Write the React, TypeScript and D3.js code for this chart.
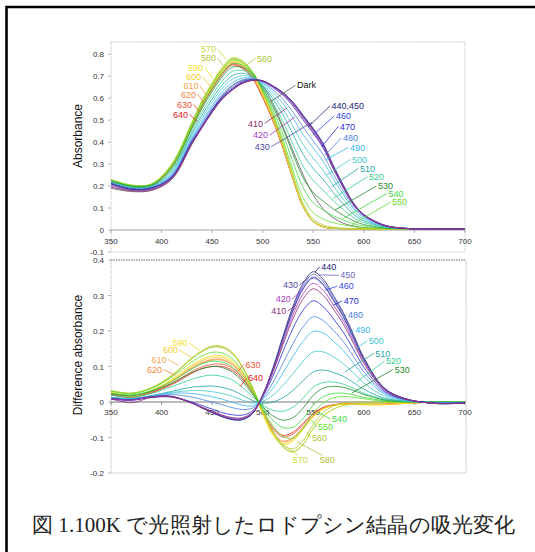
import React from "react";
import * as d3 from "d3";

const WL = [350, 370, 390, 410, 430, 440, 450, 460, 470, 480, 490, 500, 510, 520, 530, 540, 550, 560, 570, 580, 590, 600, 620, 640, 670, 700];

// Illumination wavelengths (series names)
const ILLUM = ["410", "420", "430", "440", "450", "460", "470", "480", "490", "500", "510", "520", "530", "540", "550", "560", "570", "580", "590", "600", "610", "620", "630", "640"];

// Top panel: absorbance
const topDark = [0.190, 0.175, 0.180, 0.230, 0.390, 0.470, 0.545, 0.610, 0.655, 0.680, 0.685, 0.655, 0.575, 0.470, 0.360, 0.250, 0.160, 0.095, 0.055, 0.030, 0.018, 0.010, 0.006, 0.005, 0.004, 0.004];
const topValues = [
  [0.195, 0.178, 0.182, 0.232, 0.392, 0.465, 0.535, 0.595, 0.636, 0.666, 0.680, 0.677, 0.652, 0.618, 0.570, 0.508, 0.446, 0.376, 0.279, 0.191, 0.114, 0.066, 0.020, 0.007, 0.004, 0.004],
  [0.200, 0.180, 0.185, 0.235, 0.395, 0.467, 0.537, 0.597, 0.638, 0.668, 0.681, 0.678, 0.654, 0.621, 0.575, 0.514, 0.452, 0.382, 0.284, 0.195, 0.117, 0.068, 0.021, 0.007, 0.004, 0.004],
  [0.205, 0.182, 0.188, 0.238, 0.398, 0.469, 0.539, 0.599, 0.639, 0.669, 0.682, 0.678, 0.655, 0.623, 0.578, 0.517, 0.456, 0.386, 0.287, 0.198, 0.119, 0.069, 0.022, 0.008, 0.004, 0.004],
  [0.210, 0.185, 0.190, 0.240, 0.400, 0.470, 0.540, 0.600, 0.640, 0.670, 0.682, 0.678, 0.655, 0.625, 0.580, 0.520, 0.460, 0.390, 0.290, 0.200, 0.120, 0.070, 0.022, 0.008, 0.004, 0.004],
  [0.212, 0.186, 0.190, 0.239, 0.398, 0.468, 0.538, 0.598, 0.639, 0.669, 0.682, 0.678, 0.656, 0.626, 0.582, 0.522, 0.462, 0.392, 0.292, 0.202, 0.122, 0.071, 0.023, 0.008, 0.004, 0.004],
  [0.212, 0.187, 0.191, 0.240, 0.400, 0.470, 0.541, 0.601, 0.641, 0.671, 0.683, 0.678, 0.655, 0.624, 0.579, 0.518, 0.457, 0.386, 0.286, 0.197, 0.118, 0.069, 0.022, 0.008, 0.004, 0.004],
  [0.211, 0.186, 0.191, 0.243, 0.405, 0.476, 0.547, 0.607, 0.647, 0.675, 0.684, 0.676, 0.648, 0.613, 0.563, 0.500, 0.439, 0.371, 0.276, 0.190, 0.114, 0.067, 0.021, 0.008, 0.004, 0.004],
  [0.213, 0.188, 0.193, 0.248, 0.412, 0.486, 0.557, 0.618, 0.659, 0.683, 0.687, 0.672, 0.638, 0.595, 0.536, 0.467, 0.405, 0.341, 0.253, 0.175, 0.105, 0.062, 0.020, 0.008, 0.004, 0.004],
  [0.214, 0.189, 0.194, 0.253, 0.419, 0.495, 0.567, 0.629, 0.670, 0.691, 0.690, 0.668, 0.627, 0.576, 0.509, 0.434, 0.372, 0.311, 0.231, 0.159, 0.096, 0.056, 0.018, 0.007, 0.004, 0.004],
  [0.216, 0.191, 0.196, 0.259, 0.429, 0.508, 0.582, 0.645, 0.686, 0.702, 0.694, 0.663, 0.612, 0.550, 0.471, 0.389, 0.326, 0.270, 0.200, 0.138, 0.083, 0.049, 0.017, 0.007, 0.004, 0.004],
  [0.219, 0.194, 0.199, 0.266, 0.439, 0.522, 0.596, 0.660, 0.702, 0.713, 0.698, 0.657, 0.597, 0.524, 0.434, 0.344, 0.279, 0.229, 0.169, 0.117, 0.071, 0.042, 0.015, 0.007, 0.004, 0.004],
  [0.221, 0.196, 0.201, 0.274, 0.450, 0.537, 0.613, 0.678, 0.721, 0.726, 0.703, 0.651, 0.579, 0.493, 0.390, 0.290, 0.225, 0.180, 0.132, 0.091, 0.056, 0.034, 0.013, 0.006, 0.004, 0.004],
  [0.224, 0.199, 0.204, 0.281, 0.462, 0.553, 0.630, 0.697, 0.740, 0.739, 0.708, 0.645, 0.562, 0.463, 0.345, 0.237, 0.170, 0.131, 0.095, 0.066, 0.041, 0.025, 0.010, 0.006, 0.004, 0.004],
  [0.226, 0.201, 0.206, 0.288, 0.472, 0.566, 0.644, 0.712, 0.756, 0.750, 0.712, 0.640, 0.547, 0.437, 0.308, 0.192, 0.124, 0.090, 0.064, 0.045, 0.028, 0.018, 0.008, 0.006, 0.004, 0.004],
  [0.228, 0.203, 0.208, 0.295, 0.482, 0.579, 0.658, 0.727, 0.772, 0.761, 0.717, 0.634, 0.532, 0.411, 0.271, 0.147, 0.078, 0.049, 0.033, 0.023, 0.015, 0.011, 0.007, 0.005, 0.004, 0.004],
  [0.229, 0.204, 0.209, 0.298, 0.487, 0.586, 0.666, 0.735, 0.780, 0.767, 0.719, 0.632, 0.525, 0.398, 0.252, 0.122, 0.050, 0.023, 0.012, 0.008, 0.006, 0.005, 0.005, 0.005, 0.004, 0.004],
  [0.230, 0.205, 0.210, 0.300, 0.490, 0.590, 0.670, 0.740, 0.785, 0.770, 0.720, 0.630, 0.520, 0.390, 0.240, 0.110, 0.040, 0.015, 0.008, 0.006, 0.005, 0.005, 0.005, 0.005, 0.004, 0.004],
  [0.228, 0.203, 0.208, 0.297, 0.485, 0.584, 0.663, 0.733, 0.777, 0.762, 0.713, 0.624, 0.515, 0.386, 0.238, 0.109, 0.040, 0.015, 0.008, 0.006, 0.005, 0.005, 0.005, 0.005, 0.004, 0.004],
  [0.225, 0.201, 0.206, 0.294, 0.480, 0.578, 0.657, 0.725, 0.769, 0.755, 0.706, 0.617, 0.510, 0.382, 0.235, 0.108, 0.039, 0.015, 0.008, 0.006, 0.005, 0.005, 0.005, 0.005, 0.004, 0.004],
  [0.224, 0.200, 0.205, 0.293, 0.478, 0.575, 0.653, 0.722, 0.765, 0.751, 0.702, 0.614, 0.507, 0.380, 0.234, 0.107, 0.039, 0.015, 0.008, 0.006, 0.005, 0.005, 0.005, 0.005, 0.004, 0.004],
  [0.223, 0.199, 0.204, 0.291, 0.475, 0.572, 0.650, 0.718, 0.761, 0.747, 0.698, 0.611, 0.504, 0.378, 0.233, 0.107, 0.039, 0.015, 0.008, 0.006, 0.005, 0.005, 0.005, 0.005, 0.004, 0.004],
  [0.222, 0.198, 0.203, 0.290, 0.473, 0.569, 0.647, 0.714, 0.758, 0.743, 0.695, 0.608, 0.502, 0.376, 0.232, 0.106, 0.039, 0.014, 0.008, 0.006, 0.005, 0.005, 0.005, 0.005, 0.004, 0.004],
  [0.221, 0.197, 0.202, 0.288, 0.470, 0.566, 0.643, 0.710, 0.754, 0.739, 0.691, 0.605, 0.499, 0.374, 0.230, 0.106, 0.038, 0.014, 0.008, 0.006, 0.005, 0.005, 0.005, 0.005, 0.004, 0.004],
  [0.220, 0.196, 0.201, 0.287, 0.468, 0.563, 0.640, 0.707, 0.750, 0.735, 0.688, 0.602, 0.497, 0.372, 0.229, 0.105, 0.038, 0.014, 0.008, 0.006, 0.005, 0.005, 0.005, 0.005, 0.004, 0.004],
];

// Bottom panel: difference absorbance
const diffValues = [
  [0.009, -0.002, 0.013, 0.014, -0.003, -0.015, -0.026, -0.037, -0.044, -0.044, -0.029, 0.017, 0.083, 0.161, 0.235, 0.291, 0.319, 0.300, 0.261, 0.218, 0.164, 0.109, 0.035, 0.009, -0.003, -0.003],
  [0.009, 0.005, 0.014, 0.015, -0.003, -0.015, -0.027, -0.038, -0.046, -0.046, -0.030, 0.018, 0.086, 0.168, 0.246, 0.305, 0.334, 0.314, 0.273, 0.228, 0.171, 0.114, 0.036, 0.009, -0.004, -0.003],
  [0.010, 0.006, 0.014, 0.015, -0.003, -0.016, -0.029, -0.040, -0.048, -0.048, -0.031, 0.019, 0.090, 0.176, 0.257, 0.318, 0.349, 0.328, 0.285, 0.238, 0.179, 0.119, 0.038, 0.010, -0.004, -0.003],
  [0.010, 0.006, 0.015, 0.016, -0.003, -0.017, -0.030, -0.042, -0.050, -0.050, -0.033, 0.020, 0.095, 0.185, 0.270, 0.335, 0.367, 0.345, 0.300, 0.250, 0.188, 0.125, 0.040, 0.010, -0.004, -0.003],
  [0.010, 0.006, 0.015, 0.016, -0.003, -0.017, -0.029, -0.041, -0.049, -0.049, -0.032, 0.020, 0.093, 0.181, 0.265, 0.328, 0.360, 0.338, 0.294, 0.245, 0.184, 0.123, 0.039, 0.010, -0.004, -0.003],
  [0.010, 0.006, 0.014, 0.015, -0.003, -0.016, -0.029, -0.040, -0.048, -0.048, -0.032, 0.019, 0.091, 0.178, 0.259, 0.322, 0.352, 0.331, 0.288, 0.240, 0.180, 0.120, 0.038, 0.010, -0.004, -0.003],
  [0.008, 0.005, 0.013, 0.014, 0.000, -0.010, -0.020, -0.030, -0.036, -0.037, -0.025, 0.015, 0.072, 0.142, 0.208, 0.259, 0.285, 0.268, 0.234, 0.195, 0.147, 0.098, 0.031, 0.008, -0.003, -0.002],
  [0.011, 0.007, 0.015, 0.021, 0.014, 0.007, 0.000, -0.008, -0.016, -0.021, -0.017, 0.010, 0.054, 0.109, 0.165, 0.212, 0.240, 0.229, 0.201, 0.169, 0.127, 0.085, 0.027, 0.007, -0.003, -0.002],
  [0.012, 0.009, 0.017, 0.025, 0.024, 0.020, 0.015, 0.008, -0.001, -0.009, -0.011, 0.007, 0.038, 0.082, 0.129, 0.171, 0.199, 0.194, 0.171, 0.144, 0.109, 0.072, 0.023, 0.006, -0.002, -0.002],
  [0.013, 0.009, 0.017, 0.027, 0.032, 0.032, 0.029, 0.024, 0.016, 0.005, -0.003, 0.002, 0.019, 0.047, 0.080, 0.115, 0.141, 0.141, 0.127, 0.107, 0.081, 0.054, 0.017, 0.004, -0.002, -0.001],
  [0.014, 0.010, 0.018, 0.030, 0.042, 0.044, 0.045, 0.041, 0.033, 0.019, 0.004, -0.003, 0.000, 0.012, 0.033, 0.060, 0.085, 0.090, 0.083, 0.072, 0.054, 0.036, 0.011, 0.003, -0.001, -0.001],
  [0.019, 0.014, 0.024, 0.043, 0.064, 0.072, 0.076, 0.072, 0.062, 0.041, 0.015, -0.009, -0.023, -0.026, -0.014, 0.011, 0.042, 0.055, 0.056, 0.050, 0.038, 0.025, 0.008, 0.002, 0.000, -0.001],
  [0.023, 0.018, 0.030, 0.053, 0.083, 0.094, 0.100, 0.097, 0.084, 0.058, 0.022, -0.013, -0.039, -0.051, -0.044, -0.017, 0.019, 0.039, 0.044, 0.041, 0.032, 0.021, 0.006, 0.001, 0.000, -0.001],
  [0.025, 0.020, 0.032, 0.058, 0.093, 0.107, 0.115, 0.112, 0.099, 0.069, 0.027, -0.016, -0.051, -0.072, -0.071, -0.046, -0.009, 0.015, 0.024, 0.025, 0.020, 0.013, 0.004, 0.001, 0.000, 0.000],
  [0.030, 0.023, 0.038, 0.070, 0.113, 0.130, 0.140, 0.138, 0.122, 0.086, 0.035, -0.021, -0.067, -0.097, -0.102, -0.075, -0.031, -0.002, 0.012, 0.016, 0.013, 0.009, 0.002, 0.000, 0.000, 0.000],
  [0.032, 0.025, 0.040, 0.074, 0.123, 0.142, 0.155, 0.153, 0.136, 0.097, 0.040, -0.024, -0.081, -0.121, -0.132, -0.108, -0.063, -0.029, -0.011, -0.002, 0.000, 0.000, -0.001, 0.000, 0.001, 0.000],
  [0.032, 0.025, 0.040, 0.075, 0.125, 0.145, 0.158, 0.157, 0.140, 0.100, 0.042, -0.025, -0.085, -0.128, -0.142, -0.120, -0.075, -0.040, -0.020, -0.010, -0.006, -0.004, -0.002, -0.001, 0.001, 0.000],
  [0.031, 0.024, 0.039, 0.073, 0.122, 0.142, 0.155, 0.154, 0.137, 0.098, 0.041, -0.025, -0.083, -0.125, -0.139, -0.118, -0.074, -0.039, -0.020, -0.010, -0.006, -0.004, -0.002, -0.001, 0.001, 0.000],
  [0.028, 0.017, 0.033, 0.064, 0.105, 0.121, 0.130, 0.130, 0.116, 0.083, 0.033, -0.033, -0.094, -0.121, -0.110, -0.077, -0.042, -0.020, -0.010, -0.007, -0.007, -0.008, -0.008, -0.004, 0.000, 0.000],
  [0.027, 0.016, 0.032, 0.061, 0.101, 0.117, 0.125, 0.125, 0.111, 0.080, 0.032, -0.032, -0.090, -0.117, -0.106, -0.074, -0.040, -0.019, -0.010, -0.006, -0.006, -0.007, -0.007, -0.004, 0.000, 0.000],
  [0.026, 0.015, 0.031, 0.059, 0.097, 0.112, 0.120, 0.120, 0.107, 0.077, 0.031, -0.031, -0.087, -0.112, -0.102, -0.071, -0.039, -0.018, -0.009, -0.006, -0.006, -0.007, -0.007, -0.004, 0.000, 0.000],
  [0.025, 0.015, 0.030, 0.058, 0.095, 0.110, 0.118, 0.118, 0.105, 0.075, 0.030, -0.030, -0.085, -0.110, -0.100, -0.070, -0.038, -0.018, -0.009, -0.006, -0.006, -0.007, -0.007, -0.004, 0.000, 0.000],
  [0.022, 0.013, 0.027, 0.052, 0.086, 0.099, 0.106, 0.106, 0.095, 0.068, 0.027, -0.027, -0.077, -0.099, -0.090, -0.063, -0.034, -0.016, -0.008, -0.005, -0.005, -0.006, -0.006, -0.004, 0.000, 0.000],
  [0.021, 0.013, 0.026, 0.049, 0.081, 0.094, 0.100, 0.100, 0.089, 0.064, 0.026, -0.026, -0.072, -0.094, -0.085, -0.060, -0.032, -0.015, -0.008, -0.005, -0.005, -0.006, -0.006, -0.003, 0.000, 0.000],
];

// Axis ticks
const X_TICKS = [350, 400, 450, 500, 550, 600, 650, 700];
const TOP_Y_TICKS = [-0.1, 0, 0.1, 0.2, 0.3, 0.4, 0.5, 0.6, 0.7, 0.8];
const BOT_Y_TICKS = [-0.2, -0.1, 0, 0.1, 0.2, 0.3, 0.4];

const CAPTION = "図 1.100K で光照射したロドプシン結晶の吸光変化";

const COLORS: Record<string, string> = {
  "410": "#8b2c72", "420": "#a83cc0", "430": "#55489e", "440": "#25257a", "450": "#6a6ab8",
  "460": "#2f4ae6", "470": "#2a2ad8", "480": "#4a82e0", "490": "#35b8f0", "500": "#42c6cc",
  "510": "#1ea4a8", "520": "#2fd08c", "530": "#1f8a2a", "540": "#3ed83e", "550": "#5ee02c",
  "560": "#a6c832", "570": "#c4e03a", "580": "#b4c040", "590": "#f2e21e", "600": "#f6cc2c",
  "610": "#f7a44a", "620": "#f5863a", "630": "#f0502e", "640": "#e62222", Dark: "#333333",
};

type Ann = { t: string; k: string; at: [number, number]; to: [number, number]; side: "start" | "end"; off?: [number, number] };

// label anchors / leader ends in data units (wavelength, absorbance)
const TOP_LABELS: Ann[] = [
  { t: "570", k: "570", at: [453.8, 0.809], to: [464, 0.775], side: "end" },
  { t: "580", k: "580", at: [453.8, 0.768], to: [461, 0.748], side: "end" },
  { t: "590", k: "590", at: [441.0, 0.723], to: [451, 0.69], side: "end" },
  { t: "600", k: "600", at: [439.0, 0.684], to: [448, 0.652], side: "end" },
  { t: "610", k: "610", at: [436.5, 0.641], to: [444.5, 0.612], side: "end" },
  { t: "620", k: "620", at: [434.0, 0.602], to: [442, 0.58], side: "end" },
  { t: "630", k: "630", at: [430.1, 0.557], to: [437.5, 0.538], side: "end" },
  { t: "640", k: "640", at: [426.1, 0.511], to: [435, 0.495], side: "end" },
  { t: "560", k: "560", at: [494.4, 0.766], to: [482.5, 0.745], side: "start" },
  { t: "Dark", k: "Dark", at: [533.9, 0.644], to: [507.2, 0.582], side: "start" },
  { t: "410", k: "410", at: [500.3, 0.47], to: [524, 0.555], side: "end" },
  { t: "420", k: "420", at: [505.3, 0.417], to: [531.9, 0.514], side: "end" },
  { t: "430", k: "430", at: [506.9, 0.364], to: [548.7, 0.49], side: "end" },
  { t: "440,450", k: "440", at: [568.0, 0.55], to: [544.8, 0.468], side: "start" },
  { t: "460", k: "460", at: [572.5, 0.505], to: [549.7, 0.432], side: "start" },
  { t: "470", k: "470", at: [576.4, 0.457], to: [558.2, 0.379], side: "start" },
  { t: "480", k: "480", at: [579.4, 0.405], to: [561.6, 0.341], side: "start" },
  { t: "490", k: "490", at: [586.3, 0.361], to: [561.6, 0.318], side: "start" },
  { t: "500", k: "500", at: [588.3, 0.307], to: [563.3, 0.25], side: "start" },
  { t: "510", k: "510", at: [596.2, 0.266], to: [568.2, 0.197], side: "start" },
  { t: "520", k: "520", at: [605.1, 0.228], to: [569.8, 0.144], side: "start" },
  { t: "530", k: "530", at: [614.0, 0.186], to: [571.5, 0.091], side: "start" },
  { t: "540", k: "540", at: [624.4, 0.152], to: [579.7, 0.053], side: "start" },
  { t: "550", k: "550", at: [627.8, 0.112], to: [588.0, 0.023], side: "start" },
];

const BOT_LABELS: Ann[] = [
  { t: "590", k: "590", at: [425.6, 0.158], to: [438.0, 0.144], side: "end" },
  { t: "600", k: "600", at: [416.2, 0.137], to: [430.1, 0.125], side: "end" },
  { t: "610", k: "610", at: [404.9, 0.111], to: [416.7, 0.103], side: "end" },
  { t: "620", k: "620", at: [400.4, 0.083], to: [413.3, 0.075], side: "end" },
  { t: "630", k: "630", at: [483.0, 0.097], to: [474.6, 0.085], side: "start" },
  { t: "640", k: "640", at: [485.5, 0.058], to: [477.5, 0.043], side: "start" },
  { t: "430", k: "430", at: [534.9, 0.320], to: [546.7, 0.355], side: "end" },
  { t: "420", k: "420", at: [527.7, 0.281], to: [538.8, 0.315], side: "end" },
  { t: "410", k: "410", at: [523.3, 0.247], to: [532.9, 0.273], side: "end" },
  { t: "440", k: "440", at: [557.9, 0.372], to: [551.7, 0.366], side: "start" },
  { t: "450", k: "450", at: [576.7, 0.348], to: [555.0, 0.358], side: "start" },
  { t: "460", k: "460", at: [575.1, 0.317], to: [561.6, 0.315], side: "start" },
  { t: "470", k: "470", at: [580.1, 0.276], to: [569.8, 0.273], side: "start" },
  { t: "480", k: "480", at: [584.3, 0.238], to: [578.1, 0.231], side: "start" },
  { t: "490", k: "490", at: [591.5, 0.195], to: [584.6, 0.186], side: "start" },
  { t: "500", k: "500", at: [604.8, 0.163], to: [591.2, 0.148], side: "start" },
  { t: "510", k: "510", at: [611.3, 0.128], to: [581.4, 0.085], side: "start" },
  { t: "520", k: "520", at: [621.9, 0.106], to: [592.9, 0.057], side: "start" },
  { t: "530", k: "530", at: [630.5, 0.083], to: [588.0, 0.025], side: "start" },
  { t: "540", k: "540", at: [568.5, -0.057], to: [553.4, -0.027], side: "start" },
  { t: "550", k: "550", at: [554.7, -0.079], to: [548.4, -0.051], side: "start" },
  { t: "560", k: "560", at: [548.7, -0.110], to: [543.5, -0.084], side: "start" },
  { t: "570", k: "570", at: [529.6, -0.173], to: [523.7, -0.126], side: "start", off: [5, -8] },
  { t: "580", k: "580", at: [556.3, -0.173], to: [533.6, -0.112], side: "start", off: [3, -8] },
];

const SANS = "'Liberation Sans', Arial, Helvetica, sans-serif";

export default function App() {
  const x = d3.scaleLinear().domain([350, 700]).range([111, 465]);
  const yTop = d3.scaleLinear().domain([-0.1, 0.855]).range([252, 42]);
  const yBot = d3.scaleLinear().domain([-0.2, 0.4]).range([473, 260]);

  const mkLine = (y: d3.ScaleLinear<number, number>) =>
    d3
      .line<number>()
      .x((_, i) => x(WL[i]))
      .y((v) => y(v))
      .curve(d3.curveCatmullRom.alpha(0.5));
  const lineTop = mkLine(yTop);
  const lineBot = mkLine(yBot);

  const order = d3.range(ILLUM.length).reverse();
  const fmt = (t: number) => (t === 0 ? "0" : d3.format(".1f")(t).replace("\u2212", "-"));

  const renderLabels = (labels: Ann[], y: d3.ScaleLinear<number, number>) =>
    labels.map((a, i) => {
      const ax = x(a.at[0]);
      const ay = y(a.at[1]);
      const off = a.off ?? (a.side === "end" ? [1.5, -3.2] : [-1.5, -3.2]);
      const col = COLORS[a.k];
      return (
        <g key={i}>
          <line x1={ax + off[0]} y1={ay + off[1]} x2={x(a.to[0])} y2={y(a.to[1])} stroke={a.k === "Dark" ? "#555" : col} strokeWidth={0.8} />
          <text x={ax} y={ay} textAnchor={a.side} fontSize={9} fontFamily={SANS} fill={a.k === "Dark" ? "#111" : col}>
            {a.t}
          </text>
        </g>
      );
    });

  return (
    <svg width={535} height={552} style={{ position: "absolute", left: 0, top: 0, background: "#fff" }}>
      {/* outer page frame */}
      <path d="M6.5,560 V7 H540" fill="none" stroke="#000" strokeWidth={2.6} />

      {/* ===== Top panel ===== */}
      <rect x={111} y={42} width={354} height={210} fill="none" stroke="#c4c4c4" strokeWidth={1} strokeDasharray="1.5,1" />
      <line x1={111} x2={465} y1={yTop(0)} y2={yTop(0)} stroke="#9a9a9a" strokeWidth={0.9} />
      {X_TICKS.map((t) => (
        <g key={"tx" + t}>
          <line x1={x(t)} x2={x(t)} y1={yTop(0)} y2={yTop(0) + 3} stroke="#999" strokeWidth={0.8} />
          <text x={x(t)} y={yTop(0) + 14} textAnchor="middle" fontSize={8} fontFamily={SANS} fill="#333">{t}</text>
        </g>
      ))}
      {TOP_Y_TICKS.map((t) => (
        <g key={"ty" + t}>
          <line x1={108} x2={111} y1={yTop(t)} y2={yTop(t)} stroke="#aaa" strokeWidth={0.8} />
          <text x={104} y={yTop(t) + 3} textAnchor="end" fontSize={8} fontFamily={SANS} fill="#333">{fmt(t)}</text>
        </g>
      ))}
      <text transform={`translate(82,${(yTop(0) + yTop(0.855)) / 2}) rotate(-90)`} textAnchor="middle" fontSize={12} fontFamily={SANS} fill="#111">Absorbance</text>

      <g fill="none" strokeWidth={0.9}>
        <path d={lineTop(topDark) ?? ""} stroke="#6a6a6a" />
        {order.map((i) => (
          <path key={"t" + i} d={lineTop(topValues[i]) ?? ""} stroke={COLORS[ILLUM[i]]} strokeOpacity={0.85} />
        ))}
      </g>
      {renderLabels(TOP_LABELS, yTop)}

      {/* ===== Bottom panel ===== */}
      <line x1={111} x2={466} y1={473} y2={473} stroke="#bdbdbd" strokeDasharray="1.5,1" />
      <line x1={111} x2={111} y1={260} y2={473} stroke="#bdbdbd" strokeDasharray="1.5,1" />
      <line x1={466} x2={466} y1={260} y2={473} stroke="#bdbdbd" strokeDasharray="1.5,1" />
      <line x1={111} x2={466} y1={260} y2={260} stroke="#666" strokeDasharray="1.5,1" />
      <line x1={111} x2={466} y1={yBot(0)} y2={yBot(0)} stroke="#666" strokeWidth={0.9} />
      {X_TICKS.map((t) => (
        <g key={"bx" + t}>
          <line x1={x(t)} x2={x(t)} y1={yBot(0)} y2={yBot(0) + 3} stroke="#777" strokeWidth={0.8} />
          <text x={x(t)} y={yBot(0) + 13} textAnchor="middle" fontSize={8} fontFamily={SANS} fill="#333">{t}</text>
        </g>
      ))}
      {BOT_Y_TICKS.map((t) => (
        <g key={"by" + t}>
          <line x1={108} x2={111} y1={yBot(t)} y2={yBot(t)} stroke="#aaa" strokeWidth={0.8} />
          <text x={104} y={yBot(t) + 3} textAnchor="end" fontSize={8} fontFamily={SANS} fill="#333">{fmt(t)}</text>
        </g>
      ))}
      <text transform={`translate(82,355) rotate(-90)`} textAnchor="middle" fontSize={12} fontFamily={SANS} fill="#111">Difference absorbance</text>

      <g fill="none" strokeWidth={0.9}>
        {order.map((i) => (
          <path key={"b" + i} d={lineBot(diffValues[i]) ?? ""} stroke={COLORS[ILLUM[i]]} strokeOpacity={0.9} />
        ))}
      </g>
      {renderLabels(BOT_LABELS, yBot)}

      {/* caption */}
      <text x={32} y={532} fontSize={21} textLength={483} lengthAdjust="spacingAndGlyphs" fontFamily="'Liberation Serif', 'DejaVu Serif', serif" fill="#222">{CAPTION}</text>
    </svg>
  );
}
